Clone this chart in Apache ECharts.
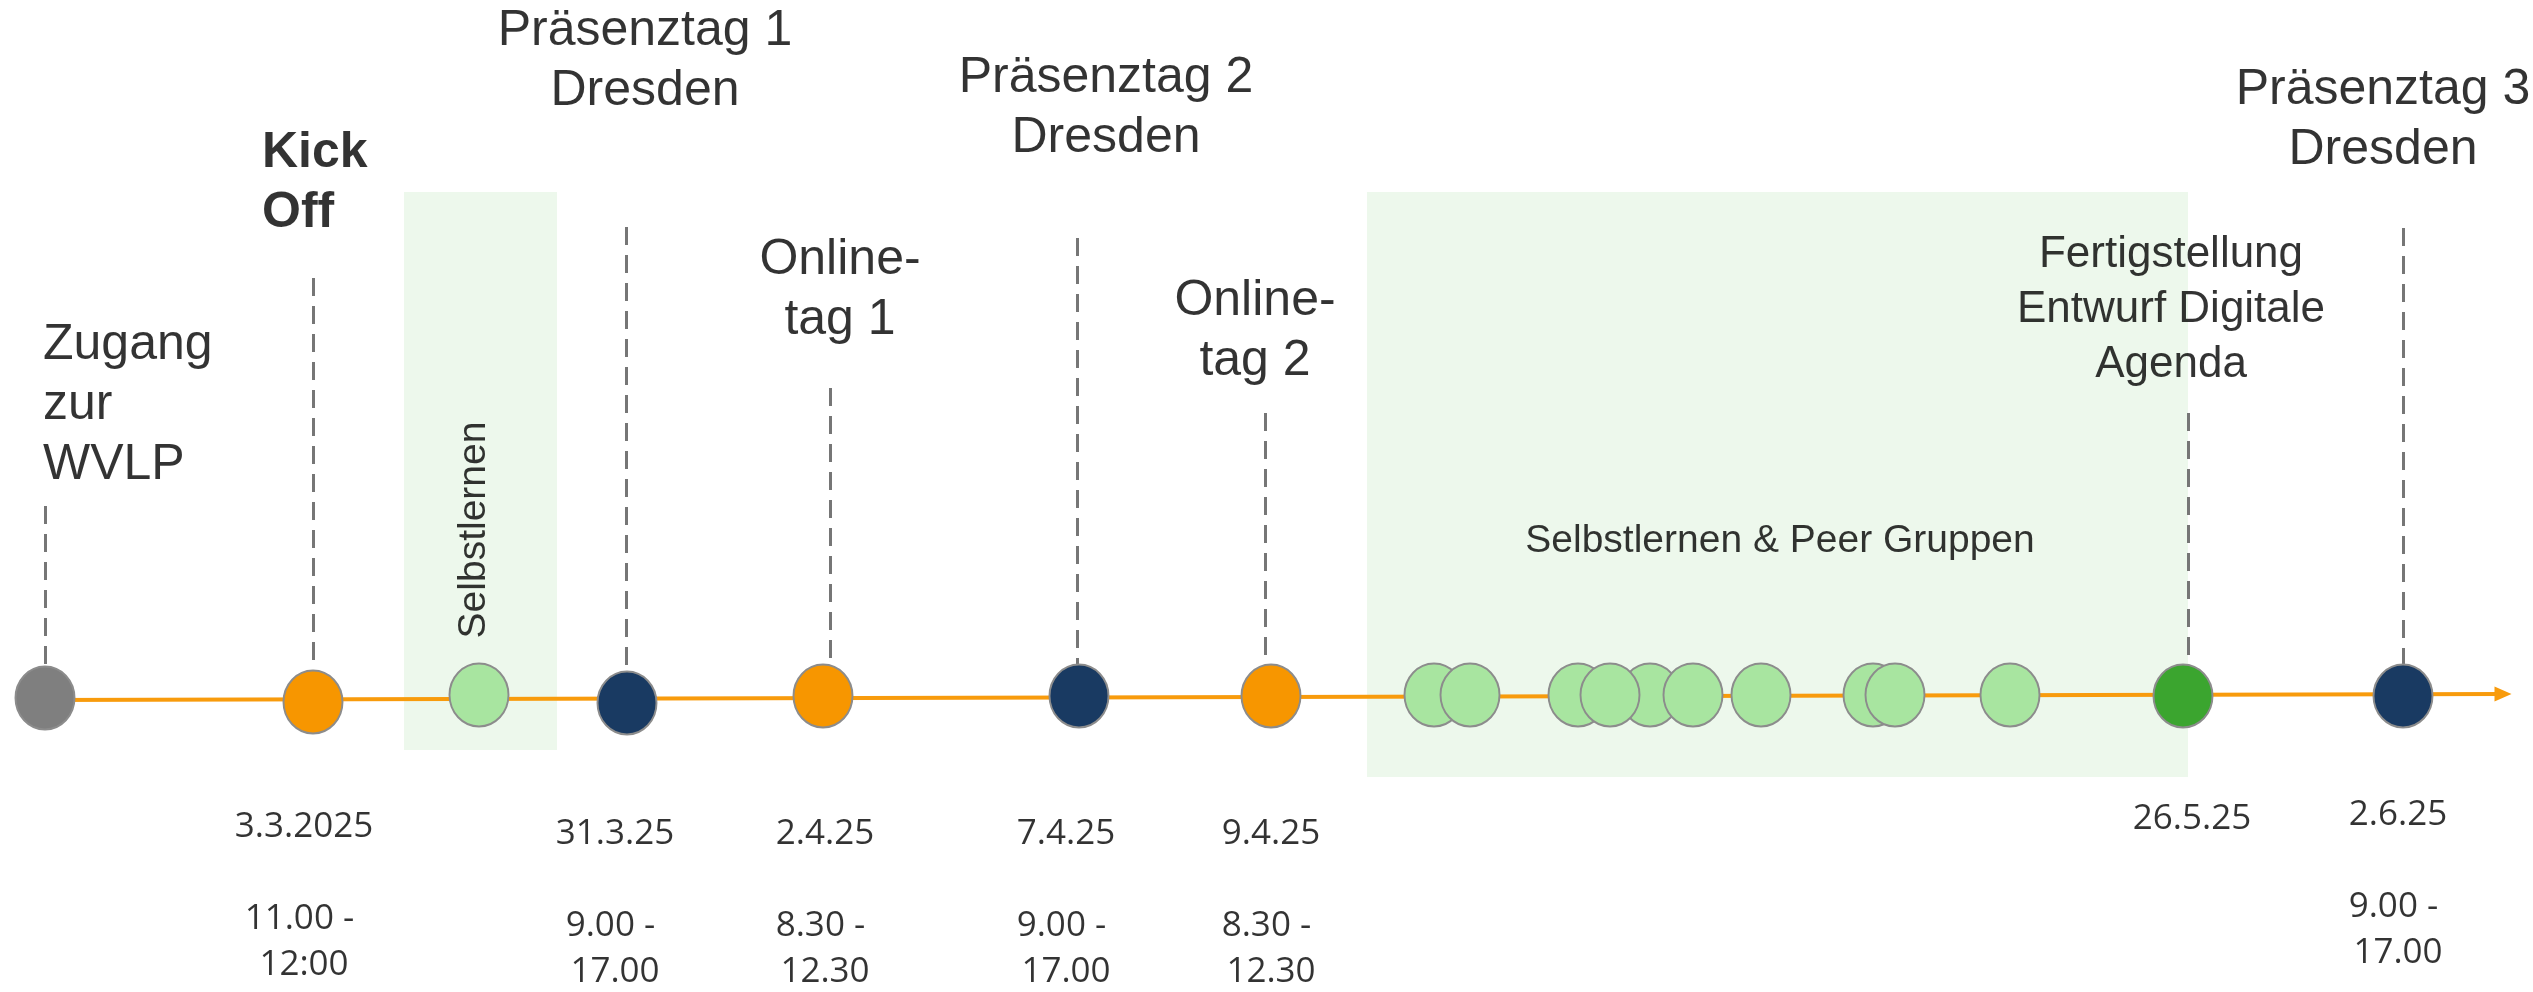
<!DOCTYPE html>
<html>
<head>
<meta charset="utf-8">
<script src="https://cdn.jsdelivr.net/npm/echarts@6/dist/echarts.min.js"></script>
<style>
  html, body { margin: 0; padding: 0; background: #fff; }
  #chart { width: 2533px; height: 992px; }
</style>
</head>
<body>
<div id="chart"></div>
<script>
  // timeline coordinates (picture space: x to the right, y downwards)
  const timeline = [[45, 700], [2503, 694]]
  const zones = [[404, 557, 192, 750], [1367, 2188, 192, 777]]

  // milestones, grouped by colour
  const startPoints = [[45, 698]]
  const onlinePoints = [[313, 702], [823, 696], [1271, 696]]
  const praesenzPoints = [[627, 703], [1079, 696], [2403, 696]]
  const finalPoints = [[2183, 696]]
  const selfStudyPoints = [[479, 695], [1434, 695], [1470, 695], [1578, 695], [1650, 695], [1610, 695],
    [1693, 695], [1761, 695], [1873, 695], [1895, 695], [2010, 695]]

  // dashed guides above the milestones
  const guideX = [45, 313, 626, 830, 1077, 1265, 2188, 2403]
  const guideTop = [506, 278, 227, 388, 238, 413, 413, 228]
  const guideBottom = 668

  const titles = ['Zugang\nzur\nWVLP', 'Kick\nOff', 'Präsenztag 1\nDresden', 'Online-\ntag 1',
    'Präsenztag 2\nDresden', 'Online-\ntag 2', 'Fertigstellung\nEntwurf Digitale\nAgenda', 'Präsenztag 3\nDresden']
  const titleAnchor = [[43, 315], [262, 123], [645, 1], [840, 230], [1106, 48], [1255, 271], [2171, 227], [2383, 60]]

  const dates = ['3.3.2025\n\n11.00 - \n12:00', '31.3.25\n\n9.00 - \n17.00', '2.4.25\n\n8.30 - \n12.30',
    '7.4.25\n\n9.00 - \n17.00', '9.4.25\n\n8.30 - \n12.30', '26.5.25', '2.6.25\n\n9.00 - \n17.00']
  const dateAnchor = [[304, 804], [615, 811], [825, 811], [1066, 811], [1271, 811], [2192, 796], [2398, 792]]

  const zoneTexts = ['Selbstlernen', 'Selbstlernen & Peer Gruppen']
  const zoneTextAnchor = [[474, 530], [1780, 517]]

  const ellipse = 'path://M0,31.5A29.5,31.5,0,1,1,59,31.5A29.5,31.5,0,1,1,0,31.5Z'
  const sans = 'Liberation Sans, Arial, sans-serif'

  function dots(name, points, color) {
    return {
      name: name,
      type: 'scatter',
      z: 5,
      symbol: ellipse,
      symbolSize: [59, 63],
      itemStyle: { color: color, borderColor: '#8c8c8c', borderWidth: 2, opacity: 1 },
      data: points
    }
  }

  const titleData = titles.map((t, i) => {
    const left = i < 2
    return {
      value: titleAnchor[i],
      name: t,
      label: {
        align: left ? 'left' : 'center',
        fontWeight: i === 1 ? 'bold' : 'normal',
        fontSize: i === 6 ? 44 : 50,
        lineHeight: i === 6 ? 55 : 60
      }
    }
  })

  const dateData = dates.map((t, i) => ({ value: dateAnchor[i], name: t }))

  const chart = echarts.init(document.getElementById('chart'))
  chart.setOption({
    animation: false,
    grid: { left: 0, right: 0, top: 0, bottom: 0 },
    xAxis: { type: 'value', min: 0, max: 2533, show: false },
    yAxis: { type: 'value', min: 0, max: 992, inverse: true, show: false },
    series: [
      {
        name: 'zones',
        type: 'scatter',
        z: 1,
        data: [],
        markArea: {
          silent: true,
          itemStyle: { color: '#edf8ec' },
          data: zones.map(z => [{ coord: [z[0], z[2]] }, { coord: [z[1], z[3]] }])
        }
      },
      {
        name: 'guides',
        type: 'scatter',
        z: 2,
        data: [],
        markLine: {
          silent: true,
          symbol: ['none', 'none'],
          label: { show: false },
          lineStyle: { color: '#767676', width: 3, type: [18, 10] },
          data: guideX.map((x, i) => [{ coord: [x, guideTop[i]] }, { coord: [x, guideBottom] }])
        }
      },
      {
        name: 'timeline',
        type: 'scatter',
        z: 3,
        data: [],
        markLine: {
          silent: true,
          symbol: ['none', 'triangle'],
          symbolSize: [15, 17],
          label: { show: false },
          lineStyle: { color: '#f89b0c', width: 4, type: 'solid' },
          itemStyle: { color: '#f89b0c' },
          data: [[{ coord: timeline[0] }, { coord: timeline[1] }]]
        }
      },
      dots('start', startPoints, '#7f7f7f'),
      dots('online', onlinePoints, '#f79600'),
      dots('praesenz', praesenzPoints, '#193a62'),
      dots('final', finalPoints, '#3ba52f'),
      dots('selfstudy', selfStudyPoints, '#a8e5a0'),
      {
        name: 'titles',
        type: 'scatter',
        z: 6,
        symbolSize: 1,
        itemStyle: { color: 'transparent' },
        label: {
          show: true,
          position: 'bottom',
          distance: 0,
          formatter: p => p.name,
          fontFamily: sans,
          color: '#000'
        },
        data: titleData
      },
      {
        name: 'dates',
        type: 'scatter',
        z: 6,
        symbolSize: 1,
        itemStyle: { color: 'transparent' },
        label: {
          show: true,
          position: 'bottom',
          distance: 0,
          formatter: p => p.name,
          fontFamily: 'Open Sans, sans-serif',
          fontSize: 35,
          lineHeight: 46,
          color: '#000'
        },
        data: dateData
      },
      {
        name: 'zoneTexts',
        type: 'scatter',
        z: 6,
        symbolSize: 1,
        itemStyle: { color: 'transparent' },
        label: {
          show: true,
          formatter: p => p.name,
          fontFamily: sans,
          fontSize: 39,
          lineHeight: 47,
          color: '#000'
        },
        data: [
          { value: zoneTextAnchor[0], name: zoneTexts[0], label: { position: 'inside', rotate: 90 } },
          { value: zoneTextAnchor[1], name: zoneTexts[1], label: { position: 'bottom', distance: 0 } }
        ]
      }
    ]
  })
</script>
</body>
</html>
